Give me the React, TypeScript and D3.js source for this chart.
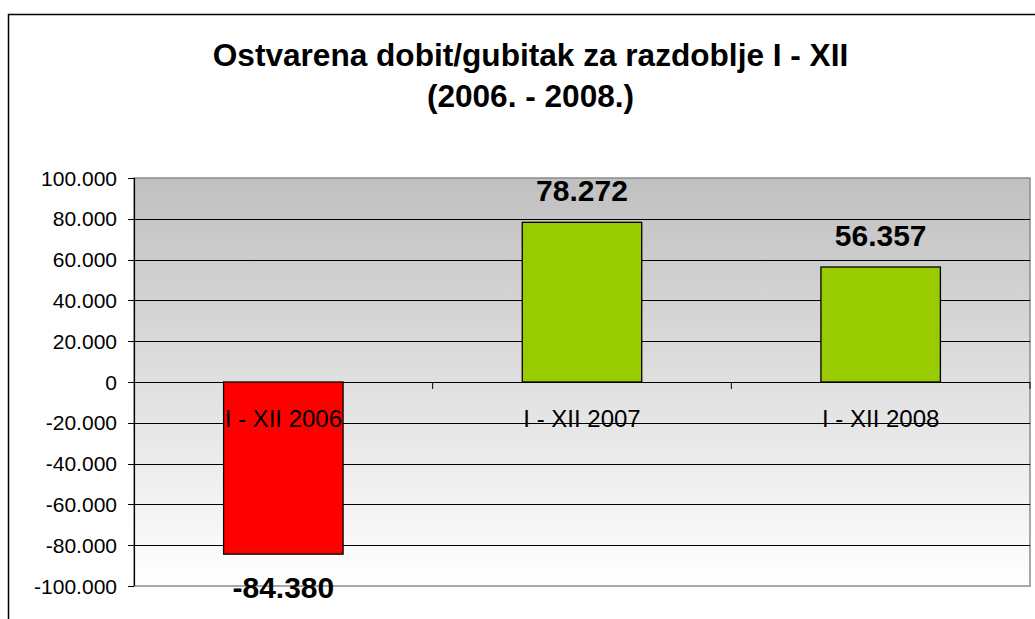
import React from "react";
import * as d3 from "d3";

const categories = ["I - XII 2006", "I - XII 2007", "I - XII 2008"];
const values = [-84380, 78272, 56357];
const valueLabels = ["-84.380", "78.272", "56.357"];
const barColors = ["#FF0000", "#99CC00", "#99CC00"];
const yTicks = [100000, 80000, 60000, 40000, 20000, 0, -20000, -40000, -60000, -80000, -100000];
const titleLines = ["Ostvarena dobit/gubitak za razdoblje I - XII", "(2006. - 2008.)"];

const fmt = (v: number) => {
  if (v === 0) return "0";
  const s = Math.abs(v).toString();
  const withDots = s.replace(/\B(?=(\d{3})+(?!\d))/g, ".");
  return (v < 0 ? "-" : "") + withDots;
};

export default function App() {
  const W = 1035, H = 619;
  const left = 134, right = 1030, top = 178, bottom = 586;
  const y = d3.scaleLinear().domain([-100000, 100000]).range([bottom, top]);
  const x = d3.scaleBand().domain(categories).range([left, right]).paddingInner(0.6).paddingOuter(0.3);
  const xb = d3.scaleBand().domain(categories).range([left, right]).padding(0);
  const y0 = y(0);
  const font = "Arial, 'Liberation Sans', sans-serif";

  return (
    <svg width={W} height={H} style={{ position: "absolute", left: 0, top: 0, background: "#fff" }} fontFamily={font}>
      <defs>
        <linearGradient id="bg" x1="0" y1="0" x2="0" y2="1">
          <stop offset="0" stopColor="#C0C0C0" />
          <stop offset="1" stopColor="#FFFFFF" />
        </linearGradient>
      </defs>
      <rect x={8.5} y={14.5} width={W + 10} height={H + 10} fill="#fff" stroke="#000" strokeWidth={1.5} />
      {titleLines.map((t, i) => (
        <text key={i} x={530.5} y={66 + i * 41} textAnchor="middle" fontWeight="bold" fontSize={31.6} fill="#000">{t}</text>
      ))}
      <rect x={left} y={top} width={right - left} height={bottom - top} fill="url(#bg)" stroke="#8c8c8c" strokeWidth={1.5} />
      {yTicks.map((t) => (
        <g key={t}>
          {t !== 100000 && t !== -100000 && (
            <line x1={left} x2={right} y1={Math.round(y(t)) + 0.5} y2={Math.round(y(t)) + 0.5} stroke="#000" strokeWidth={1} />
          )}
          <line x1={left - 6} x2={left} y1={Math.round(y(t)) + 0.5} y2={Math.round(y(t)) + 0.5} stroke="#000" strokeWidth={1} />
          <text x={117} y={y(t) + 7.5} textAnchor="end" fontSize={21} fill="#000">{fmt(t)}</text>
        </g>
      ))}
      <line x1={left + 0.5} x2={left + 0.5} y1={top} y2={bottom} stroke="#000" strokeWidth={1.2} />
      {categories.map((c, i) => (
        <line key={"tk" + i} x1={xb(c)! + xb.bandwidth()} x2={xb(c)! + xb.bandwidth()} y1={y0} y2={y0 + 7} stroke="#000" strokeWidth={1} />
      ))}
      {values.map((v, i) => {
        const c = categories[i];
        const bx = x(c)!;
        const y1 = Math.min(y(v), y0);
        const h = Math.abs(y(v) - y0);
        return (
          <rect key={"b" + i} x={bx} y={y1} width={x.bandwidth()} height={h} fill={barColors[i]} stroke="#000" strokeWidth={1.3} />
        );
      })}
      {categories.map((c, i) => (
        <text key={"cl" + i} x={xb(c)! + xb.bandwidth() / 2} y={427} textAnchor="middle" fontSize={24} fill="#000">{c}</text>
      ))}
      {values.map((v, i) => {
        const c = categories[i];
        const cx = xb(c)! + xb.bandwidth() / 2;
        const ly = v >= 0 ? y(v) - 21.5 : y(v) + 43.5;
        return (
          <text key={"vl" + i} x={cx} y={ly} textAnchor="middle" fontWeight="bold" fontSize={30} fill="#000">{valueLabels[i]}</text>
        );
      })}
    </svg>
  );
}
